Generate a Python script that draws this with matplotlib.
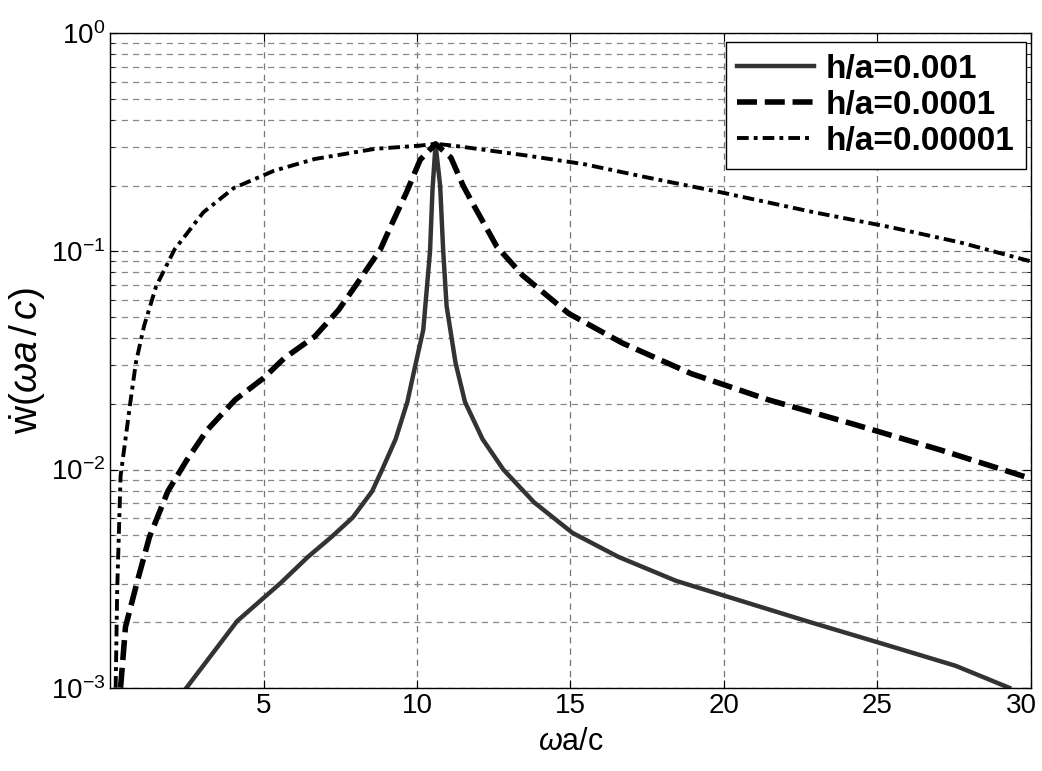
import matplotlib
matplotlib.use("Agg")
import matplotlib.pyplot as plt
import matplotlib.transforms as mtransforms
from matplotlib.ticker import LogLocator, NullFormatter

plt.rcParams['font.family'] = ['Liberation Sans', 'DejaVu Sans']
plt.rcParams['mathtext.fontset'] = 'custom'
plt.rcParams['mathtext.rm'] = 'Liberation Sans'
plt.rcParams['mathtext.it'] = 'Liberation Sans:italic'

# h/a = 0.001 (solid)
x_1 = [2.48, 4.13, 5.55, 6.44, 7.2, 7.9, 8.53, 8.86, 9.3, 9.68, 9.96, 10.2,
       10.42, 10.5, 10.6, 10.75, 10.85, 10.96, 11.25, 11.56, 12.13, 12.81,
       13.81, 15.06, 16.56, 18.44, 20.06, 22.7, 25.44, 27.56, 29.3]
y_1 = [0.001, 0.00202, 0.00302, 0.00398, 0.0049, 0.00603, 0.00794, 0.01,
       0.0138, 0.0204, 0.0309, 0.0437, 0.1, 0.191, 0.309, 0.2, 0.1, 0.0562,
       0.0309, 0.0204, 0.0138, 0.01, 0.00708, 0.00513, 0.00398, 0.00309,
       0.00263, 0.00202, 0.00155, 0.00126, 0.001]

# h/a = 0.0001 (dashed)
x_2 = [0.33, 0.49, 0.88, 1.27, 1.87, 2.48, 3.14, 4.07, 5.0, 5.67, 6.66, 7.43,
       7.98, 8.8, 9.19, 9.65, 10.1, 10.6, 11.1, 11.5, 11.81, 12.6, 13.44,
       14.94, 16.69, 18.94, 21.44, 24.19, 27.06, 30.0]
y_2 = [0.001, 0.0019, 0.00309, 0.0049, 0.00794, 0.011, 0.0151, 0.0209,
       0.0263, 0.0324, 0.0407, 0.0537, 0.0692, 0.102, 0.135, 0.186, 0.263,
       0.311, 0.269, 0.2, 0.166, 0.105, 0.0776, 0.0519, 0.038, 0.0275,
       0.0209, 0.0162, 0.0123, 0.0091]

# h/a = 0.00001 (dash-x)
x_3 = [0.17, 0.22, 0.33, 0.66, 0.83, 1.1, 1.49, 2.09, 3.03, 4.02, 5.33, 6.66,
       8.63, 10.07, 10.6, 11.19, 13.56, 15.44, 17.44, 19.94, 22.94, 25.44,
       27.69, 30.0]
y_3 = [0.001, 0.00282, 0.00933, 0.0209, 0.0309, 0.0457, 0.0692, 0.102,
       0.151, 0.195, 0.234, 0.265, 0.295, 0.305, 0.311, 0.305, 0.275, 0.251,
       0.219, 0.186, 0.151, 0.129, 0.110, 0.090]

labels = ['h/a=0.001', 'h/a=0.0001', 'h/a=0.00001']
xticks = [5, 10, 15, 20, 25, 30]

fig = plt.figure(figsize=(10.42, 7.71), dpi=100)
ax = fig.add_axes([0.106, 0.108, 0.883, 0.849])

ax.plot(x_1, y_1, color='#333333', lw=3.2, label=labels[0])
ax.plot(x_2, y_2, color='black', lw=4.0, dashes=(3.6, 1.4), label=labels[1])
ax.plot(x_3, y_3, color='black', lw=2.8, dashes=(3.0, 1.3, 1.0, 1.3),
        label=labels[2])

ax.set_yscale('log')
ax.set_xlim(0, 30)
ax.set_ylim(1e-3, 1e0)
ax.set_xticks(xticks)
ax.yaxis.set_major_locator(LogLocator(base=10))
ax.yaxis.set_minor_locator(LogLocator(base=10, subs=range(2, 10)))
ax.yaxis.set_minor_formatter(NullFormatter())

ax.grid(True, which='major', color='#777777', lw=0.9, dashes=(5, 4))
ax.grid(True, which='minor', axis='y', color='#888888', lw=0.9, dashes=(5, 4))

ax.tick_params(which='both', direction='in', top=True, right=True,
               labelsize=20)
ax.tick_params(which='major', length=6)
ax.tick_params(which='minor', length=3)
for s in ax.spines.values():
    s.set_linewidth(1.0)

# nudge the last x tick label so it stays inside the figure
last = ax.get_xticklabels()[-1]
last.set_transform(last.get_transform() +
                   mtransforms.ScaledTranslation(-9 / 100, 0, fig.dpi_scale_trans))

ax.set_xlabel(r'$\omega$a/c', fontsize=22, labelpad=6)
ax.set_ylabel(r'$\dot{\mathrm{w}}(\omega a\,/\,c)$', fontsize=28, labelpad=2)

leg = ax.legend(loc='upper right', bbox_to_anchor=(0.995, 0.986),
                borderaxespad=0, fancybox=False, edgecolor='black',
                framealpha=1, handlelength=2.3, handletextpad=0.35,
                labelspacing=0.15, borderpad=0.35,
                prop={'weight': 'bold', 'size': 24})
leg.get_frame().set_linewidth(1.0)

fig.savefig('out.png', dpi=100)
